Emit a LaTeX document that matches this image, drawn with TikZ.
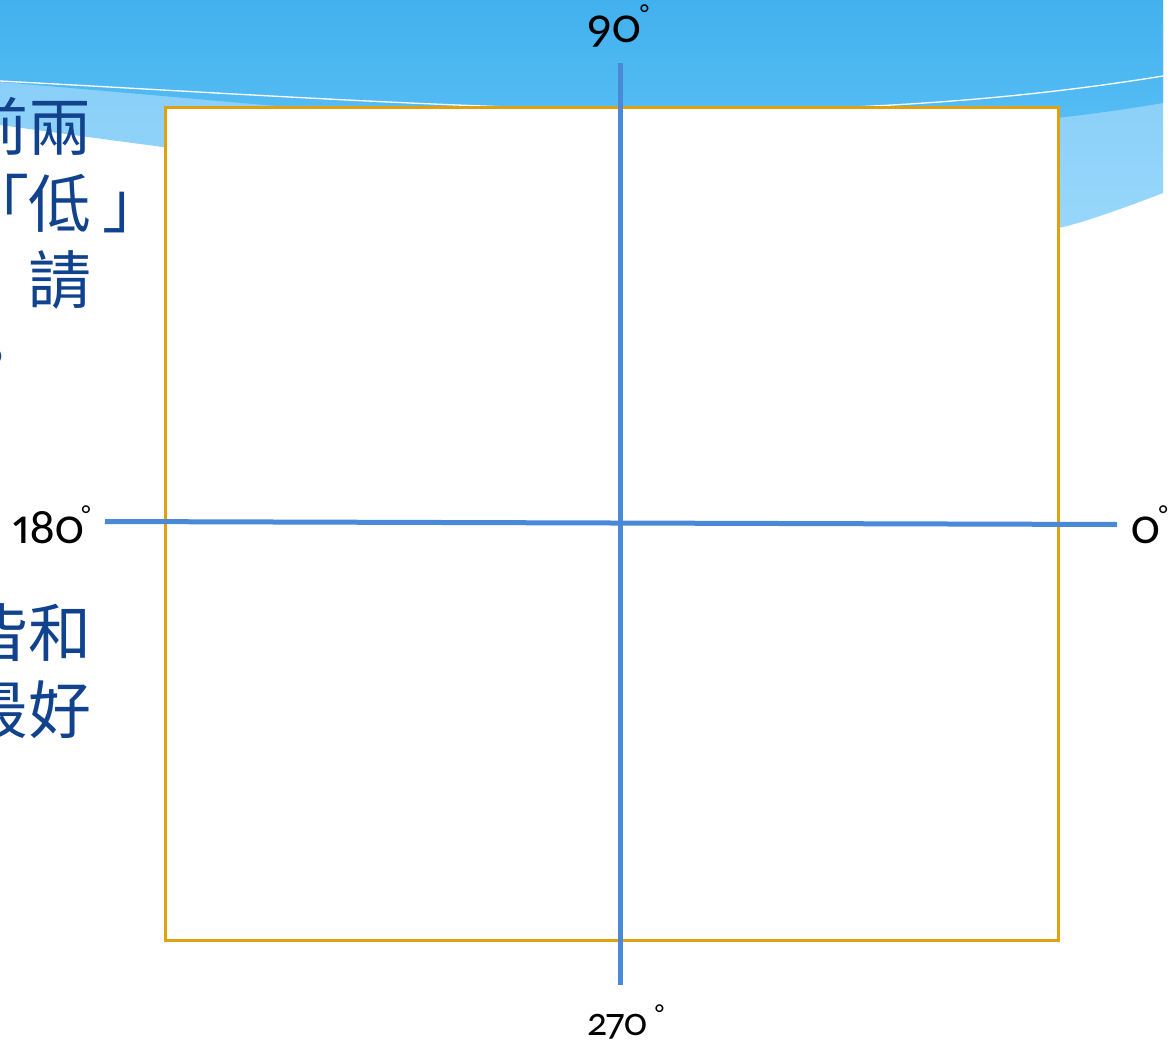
\documentclass[tikz,border=0pt]{standalone}
\usepackage{fontspec}
\newfontfamily\cjkfont{Noto Sans CJK TC}
\newfontfamily\numfont[Numbers={OldStyle,Proportional}]{Carlito}
\newcommand{\degsym}[2]{\hspace{#1}\raisebox{#2}{\fontsize{26}{26}\selectfont °}}
\definecolor{darkband}{RGB}{65,177,238}
\definecolor{midband}{RGB}{94,192,245}
\definecolor{lightbandA}{RGB}{130,203,247}
\definecolor{lightbandB}{RGB}{152,215,251}
\definecolor{txtblue}{RGB}{16,66,142}
\definecolor{boxorange}{RGB}{224,160,16}
\definecolor{axblue}{RGB}{74,136,216}
\tikzset{
  cjktext/.style={font=\cjkfont\fontsize{63}{63}\selectfont, text=txtblue, anchor=base west, inner sep=0pt},
  deglabel/.style={font=\numfont\fontsize{50}{50}\selectfont, text=black, anchor=base west, inner sep=0pt},
  axisline/.style={draw=axblue, line width=5pt},
  framebox/.style={draw=boxorange, line width=3pt, fill=white, inner sep=0pt, minimum width=893pt, minimum height=832pt}
}
\begin{document}
\begin{tikzpicture}[x=1pt,y=-1pt]
\useasboundingbox (0,0) rectangle (1175,1048);
\fill[white] (0,0) rectangle (1175,1048);
\begin{scope}
\clip (0,0) rectangle (1163,1048);
\shade[top color=lightbandA, bottom color=lightbandB]
  (0,0) -- (1163,0) -- plot[smooth] coordinates {(1163,193) (1058,228) (950,232) (800,222) (500,190) (163,147) (0,125)} -- cycle;
\shade[top color=darkband, bottom color=midband]
  (0,0) -- (1163,0) -- (1163,103) .. controls (800,165) and (400,115) .. (0,82) -- cycle;
\draw[white, line width=1.3pt] (0,81) .. controls (450,105) and (800,135) .. (1163,76);
\end{scope}

\node[framebox] (box) at (611.5,524) {};

\coordinate (hl) at (105,521.5);
\coordinate (hr) at (1117,524.5);
\coordinate (vt) at (620,63);
\coordinate (vb) at (620,985);
\draw[axisline] (hl) -- (hr);
\draw[axisline] (vt) -- (vb);

\node[deglabel] (d90) at (586,43) {90\degsym{-1pt}{20pt}};
\node[deglabel, font=\numfont\fontsize{40}{40}\selectfont] (d270) at (587,1035) {270\degsym{8pt}{13pt}};
\node[deglabel] (d180) at (12,543) {180\degsym{-3pt}{20pt}};
\node[deglabel] (d0) at (1131,543) {0\degsym{-1pt}{20pt}};

\begin{scope}
\clip (0,0) rectangle (1175,1048);
\node[cjktext] (t1) at (-35,151) {前兩};
\node[cjktext] (t2) at (-35,228) {\hspace{1pt}「\hspace{-1pt}低\hspace{11pt}」};
\node[cjktext] (t3) at (-35,304) {\hspace{-10pt}\raisebox{16pt}{，}\hspace{10pt}請};
\node[cjktext] (t4) at (-35,381) {\hspace{-5pt}。};
\node[cjktext] (t5) at (-35,656) {皆和};
\node[cjktext] (t6) at (-35,733) {最好};
\end{scope}
\end{tikzpicture}
\end{document}
